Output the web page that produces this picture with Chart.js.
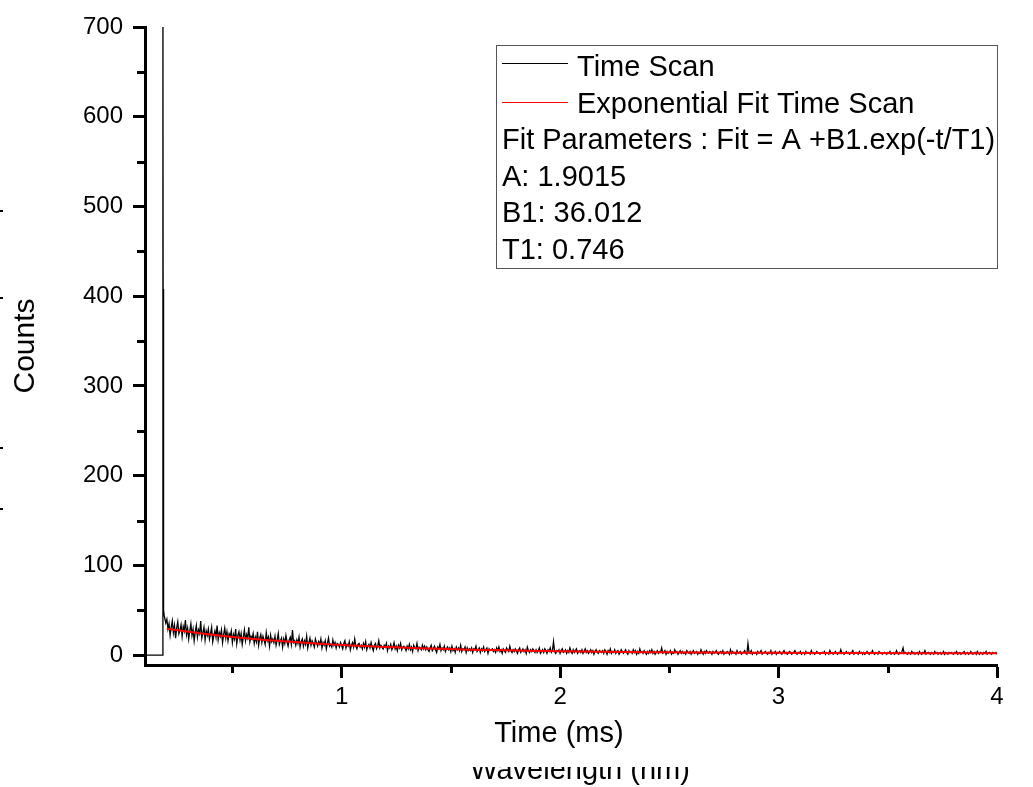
<!DOCTYPE html>
<html>
<head>
<meta charset="utf-8">
<title>Time Scan</title>
<script src="https://cdn.jsdelivr.net/npm/chart.js@4.4.1/dist/chart.umd.min.js"></script>
<style>
  html, body { margin: 0; padding: 0; background: #fff; }
  canvas { display: block; }
</style>
</head>
<body>
<canvas id="decay" width="1033" height="787"></canvas>
<script>
// time scan: flat baseline, laser spike, then noisy decay (counts)
const prefixTime = [0.10, 0.15, 0.181, 0.182, 0.183, 0.184, 0.186, 0.188];
const prefixCounts = [0, 0, 0, 760, 408, 62, 50, 44];

const scanStart = 0.19; // ms, then one sample every 0.005 ms
const scanStep = 0.005;
const scanCounts = [
  44, 36, 40, 29, 35, 22, 31, 38, 25, 33, 19, 30, 37, 24, 28, 34, 21, 32, 27, 39,
  23, 30, 18, 27, 35, 22, 29, 16, 26, 33, 20, 28, 24, 38, 19, 25, 31, 17, 27, 22,
  29, 18, 24, 31, 15, 22, 27, 20, 33, 17, 25, 21, 28, 14, 23, 30, 19, 26, 16, 24,
  21, 27, 14, 23, 18, 29, 13, 22, 26, 17, 24, 12, 20, 28, 16, 23, 19, 31, 15, 21,
  18, 24, 13, 20, 15, 26, 11, 19, 23, 14, 21, 17, 12, 25, 16, 20, 10, 22, 15, 18,
  14, 21, 11, 17, 24, 12, 16, 19, 9, 18, 13, 22, 15, 10, 17, 20, 12, 28, 14, 16,
  11, 17, 13, 20, 9, 15, 18, 10, 16, 12, 21, 8, 14, 19, 11, 16, 13, 9, 18, 14,
  10, 15, 12, 18, 8, 14, 11, 16, 7, 13, 19, 10, 12, 9, 17, 11, 14, 8, 13, 12,
  9, 14, 11, 7, 13, 16, 8, 12, 10, 15, 6, 11, 14, 9, 18, 10, 7, 12, 13, 9,
  11, 7, 13, 9, 15, 6, 10, 12, 8, 14, 9, 5, 11, 13, 7, 10, 16, 8, 11, 9,
  7, 11, 9, 13, 5, 10, 8, 12, 6, 9, 14, 7, 10, 5, 11, 8, 13, 6, 9, 10,
  8, 5, 10, 7, 12, 6, 9, 4, 11, 8, 7, 13, 5, 9, 8, 6, 11, 7, 10, 6,
  9, 6, 4, 8, 11, 5, 7, 10, 6, 3, 9, 7, 12, 5, 8, 6, 10, 4, 7, 9,
  6, 8, 4, 10, 5, 7, 3, 9, 6, 8, 5, 11, 4, 7, 6, 9, 3, 8, 5, 7,
  5, 8, 3, 7, 6, 10, 4, 6, 8, 3, 7, 5, 9, 4, 6, 8, 2, 7, 5, 6,
  7, 4, 6, 3, 8, 5, 9, 4, 6, 2, 7, 5, 3, 8, 6, 4, 10, 5, 3, 6,
  4, 7, 5, 2, 6, 8, 3, 5, 7, 4, 6, 2, 9, 5, 3, 6, 4, 7, 5, 3,
  6, 3, 5, 8, 2, 4, 6, 3, 7, 5, 2, 6, 4, 8, 3, 5, 15, 4, 2, 5,
  4, 6, 2, 5, 7, 3, 4, 6, 2, 5, 3, 8, 4, 2, 6, 3, 5, 7, 2, 4,
  5, 3, 6, 2, 4, 7, 3, 5, 2, 4, 6, 3, 5, 1, 4, 6, 3, 2, 5, 4,
  3, 5, 2, 6, 4, 1, 5, 3, 7, 2, 4, 3, 6, 2, 4, 5, 1, 3, 6, 4,
  2, 4, 6, 3, 1, 5, 3, 4, 2, 6, 3, 5, 1, 4, 2, 7, 3, 4, 2, 5,
  3, 1, 4, 2, 5, 3, 6, 2, 4, 1, 3, 5, 2, 4, 3, 8, 2, 3, 5, 1,
  4, 2, 3, 5, 1, 3, 2, 6, 3, 4, 1, 3, 5, 2, 4, 2, 3, 1, 5, 3,
  2, 4, 1, 3, 5, 2, 3, 4, 1, 3, 2, 6, 3, 1, 4, 2, 5, 3, 2, 4,
  3, 1, 4, 2, 3, 5, 2, 1, 3, 4, 2, 5, 1, 3, 2, 4, 3, 1, 6, 2,
  4, 2, 3, 1, 5, 2, 3, 4, 1, 2, 3, 5, 2, 1, 13, 3, 2, 5, 1, 3,
  2, 3, 1, 4, 2, 3, 5, 1, 2, 3, 4, 2, 1, 3, 2, 5, 1, 3, 2, 4,
  1, 3, 2, 4, 2, 1, 3, 5, 2, 3, 1, 2, 4, 3, 1, 2, 3, 5, 2, 1,
  3, 2, 4, 1, 2, 3, 1, 4, 2, 3, 2, 1, 5, 2, 3, 1, 2, 4, 3, 2,
  1, 2, 3, 2, 4, 1, 3, 2, 1, 5, 2, 3, 1, 2, 4, 2, 1, 3, 2, 6,
  2, 3, 1, 2, 4, 2, 3, 1, 2, 3, 5, 1, 2, 3, 2, 1, 4, 2, 3, 1,
  3, 1, 2, 4, 2, 1, 3, 2, 5, 2, 1, 3, 2, 1, 4, 3, 2, 1, 2, 3,
  2, 1, 3, 2, 4, 1, 2, 3, 1, 2, 5, 2, 1, 3, 2, 4, 8, 2, 3, 2,
  1, 3, 2, 1, 4, 2, 3, 1, 2, 3, 1, 4, 2, 1, 3, 2, 5, 1, 2, 3,
  2, 1, 3, 2, 1, 4, 2, 3, 1, 2, 3, 1, 2, 4, 1, 3, 2, 1, 3, 2,
  3, 2, 1, 3, 2, 4, 1, 2, 3, 1, 2, 3, 4, 1, 2, 3, 1, 2, 4, 2,
  1, 2, 3, 1, 4, 2, 1, 3, 2, 1, 3, 2, 4, 1, 2, 3, 2, 1, 3, 2,
  2, 3, 1
];

// red fit curve, sampled where it is drawn
const fitTime = [0.2, 0.3, 0.4, 0.5, 0.6, 0.7, 0.8, 0.9, 1.0, 1.1, 1.2, 1.3, 1.4, 1.5, 1.6, 1.7, 1.8, 1.9, 2.0, 2.2, 2.4, 2.6, 2.8, 3.0, 3.3, 3.6, 4.0];
const fitCounts = [29.44, 25.99, 22.97, 20.33, 18.01, 15.99, 14.22, 12.68, 11.33, 10.14, 9.11, 8.21, 7.41, 6.72, 6.12, 5.59, 5.13, 4.72, 4.37, 3.79, 3.34, 3.00, 2.75, 2.55, 2.33, 2.19, 2.07];

const yMajor = [0, 100, 200, 300, 400, 500, 600, 700];
const yMinor = [50, 150, 250, 350, 450, 550, 650];
const xMajor = [1, 2, 3, 4];
const xMinor = [0.5, 1.5, 2.5, 3.5];

const seriesNames = ["Time Scan", "Exponential Fit Time Scan"];
const fitNotes = [
  "Fit Parameters : Fit = A +B1.exp(-t/T1)",
  "A: 1.9015",
  "B1: 36.012",
  "T1: 0.746"
];

const FONT = "Arial, 'Liberation Sans', sans-serif";
Chart.defaults.font.family = FONT;
Chart.defaults.color = "#000";

const scanPoints = prefixTime.map((t, i) => ({ x: t, y: prefixCounts[i] }))
  .concat(scanCounts.map((c, i) => ({ x: +(scanStart + i * scanStep).toFixed(3), y: c })));
const fitPoints = fitTime.map((t, i) => ({ x: t, y: fitCounts[i] }));

// minor ticks, legend box and the leftover bits of the page
const extras = {
  id: "extras",
  afterDraw(chart) {
    const ctx = chart.ctx;
    const a = chart.chartArea;
    const xs = chart.scales.x, ys = chart.scales.y;
    ctx.save();
    ctx.strokeStyle = "#000";
    ctx.lineWidth = 3;
    ctx.beginPath();
    yMinor.forEach(v => {
      const p = Math.round(ys.getPixelForValue(v)) + 0.5;
      ctx.moveTo(a.left - 8, p); ctx.lineTo(a.left, p);
    });
    xMinor.forEach(v => {
      const p = Math.round(xs.getPixelForValue(v)) + 0.5;
      ctx.moveTo(p, a.bottom); ctx.lineTo(p, a.bottom + 8);
    });
    ctx.stroke();

    // legend box
    const bx = 496, by = 45, bw = 501, bh = 223;
    ctx.lineWidth = 1;
    ctx.strokeStyle = "#555";
    ctx.strokeRect(bx + 0.5, by + 0.5, bw, bh);
    ctx.font = "29px " + FONT;
    ctx.fillStyle = "#000";
    ctx.textBaseline = "alphabetic";
    ctx.textAlign = "left";
    const rowGap = 36.6;
    const base0 = 76;
    chart.data.datasets.forEach((ds, i) => {
      const yMid = Math.round(63 + i * 38.5) + 0.5;
      ctx.strokeStyle = ds.borderColor;
      ctx.lineWidth = 1;
      ctx.beginPath();
      ctx.moveTo(502, yMid); ctx.lineTo(568, yMid);
      ctx.stroke();
      ctx.fillText(ds.label, 577, base0 + i * rowGap);
    });
    fitNotes.forEach((t, i) => {
      ctx.fillText(t, 502, base0 + (i + 2) * rowGap);
    });

    // clipped axis title from an underlying plot
    ctx.save();
    ctx.beginPath();
    ctx.rect(0, 767, chart.width, chart.height - 767);
    ctx.clip();
    ctx.textAlign = "center";
    ctx.font = "29px " + FONT;
    ctx.fillText("Wavelength (nm)", 580, 779);
    ctx.restore();

    // stray ticks at the left edge
    ctx.fillStyle = "#000";
    [210, 297, 447, 508].forEach(y => ctx.fillRect(0, y, 3, 2));
    ctx.restore();
  }
};

new Chart(document.getElementById("decay"), {
  type: "line",
  data: {
    datasets: [
      {
        label: seriesNames[0],
        data: scanPoints,
        borderColor: "#000000",
        borderWidth: 1.3,
        pointRadius: 0,
        tension: 0,
        order: 2
      },
      {
        label: seriesNames[1],
        data: fitPoints,
        borderColor: "#ff0000",
        borderWidth: 2,
        pointRadius: 0,
        tension: 0.3,
        order: 1
      }
    ]
  },
  options: {
    responsive: false,
    animation: false,
    events: [],
    layout: { padding: { left: 0, right: 36, top: 27, bottom: 0 } },
    plugins: {
      legend: { display: false },
      tooltip: { enabled: false }
    },
    scales: {
      x: {
        type: "linear",
        min: 0.1,
        max: 4,
        afterBuildTicks: s => { s.ticks = xMajor.map(v => ({ value: v })); },
        afterFit: s => { s.height = 122; },
        border: { display: true, width: 3, color: "#000" },
        grid: { drawOnChartArea: false, drawTicks: true, tickLength: 13, tickWidth: 3, tickColor: "#000" },
        ticks: { font: { size: 24 }, color: "#000", padding: 5, maxRotation: 0, autoSkip: false },
        title: { display: true, text: "Time (ms)   ", font: { size: 29 }, color: "#000", padding: { top: 0, bottom: 36 } }
      },
      y: {
        min: -11,
        max: 700,
        afterBuildTicks: s => { s.ticks = yMajor.map(v => ({ value: v })); },
        afterFit: s => { s.width = 145; },
        border: { display: true, width: 3, color: "#000" },
        grid: { drawOnChartArea: false, drawTicks: true, tickLength: 12, tickWidth: 3, tickColor: "#000" },
        ticks: { font: { size: 24 }, color: "#000", padding: 10, autoSkip: false },
        title: { display: true, text: "Counts", font: { size: 30 }, color: "#000", padding: { top: 8, bottom: 0 } }
      }
    }
  },
  plugins: [extras]
});
</script>
</body>
</html>
